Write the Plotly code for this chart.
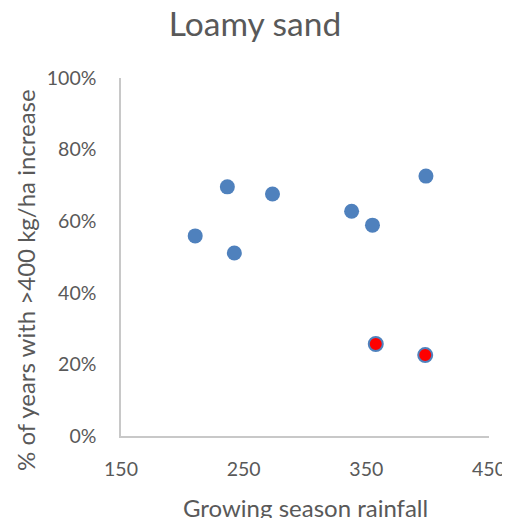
import plotly.graph_objects as go

rain_blue = [210.5, 236.7, 242.4, 273.5, 338, 355, 398.6]
pct_blue = [0.559, 0.696, 0.511, 0.676, 0.628, 0.589, 0.726]
rain_red = [357.7, 398]
pct_red = [0.257, 0.226]

x_ticks = [150, 250, 350, 450]
y_ticks = [0, 0.2, 0.4, 0.6, 0.8, 1.0]

# page body has an 8px margin, compensate
OFF = 8
W, H = 510 - OFF, 518 - OFF
L, T = 121 - OFF, 78 - OFF
R, B = 21, 82
PW, PH = W - L - R, H - T - B

txt = "#595959"
fig = go.Figure()
fig.add_trace(go.Scatter(x=rain_blue, y=pct_blue, mode="markers",
                         marker=dict(size=15, color="#4f81bd", line=dict(width=0)),
                         showlegend=False))
fig.add_trace(go.Scatter(x=rain_red, y=pct_red, mode="markers",
                         marker=dict(size=14, color="#ff0000", line=dict(width=2, color="#4f81bd")),
                         showlegend=False))

fig.update_layout(
    width=W, height=H,
    margin=dict(l=L, r=R, t=T, b=B),
    paper_bgcolor="white", plot_bgcolor="white",
    font=dict(family="Lato", color=txt),
    title=dict(text="Loamy sand", x=(255 - OFF) / W, xanchor="center", y=1 - (24 - OFF) / H, yanchor="middle",
               font=dict(size=33.5, color=txt, family="Lato")),
    xaxis=dict(range=[150, 450], tickvals=x_ticks, showgrid=False, zeroline=False,
               showline=True, linecolor="#c8c8c8", linewidth=1.5, automargin=False,
               ticks="", ticklabelstandoff=15, tickfont=dict(size=19.5, color=txt)),
    yaxis=dict(range=[0, 1.0], tickvals=y_ticks, tickformat=".0%", showgrid=False, zeroline=False,
               showline=True, linecolor="#c8c8c8", linewidth=1.5, automargin=False,
               ticks="", ticklabelstandoff=19, tickfont=dict(size=19.5, color=txt)),
    annotations=[
        dict(text="Growing season rainfall", xref="paper", yref="paper",
             x=(305 - 121) / PW, y=-(507 - 436) / PH, xanchor="center", yanchor="middle",
             showarrow=False, font=dict(size=24, color=txt)),
        dict(text="% of years with >400 kg/ha increase", xref="paper", yref="paper",
             x=-(121 - 25) / PW, y=(436 - 280) / PH, xanchor="center", yanchor="middle",
             textangle=-90, showarrow=False, font=dict(size=24, color=txt)),
    ],
)
fig.write_html("out.html")
